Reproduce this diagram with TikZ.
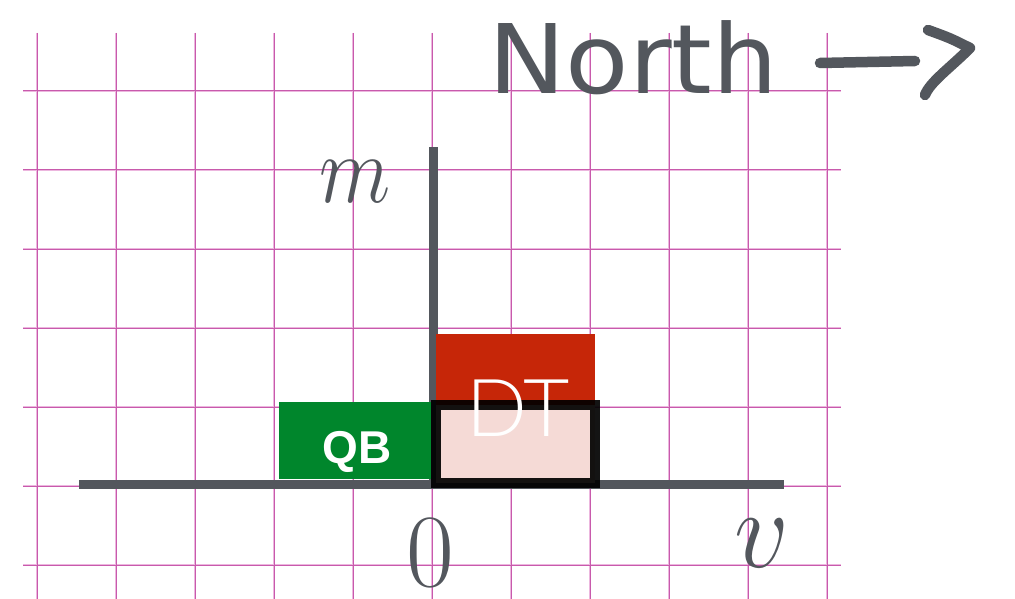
\documentclass[tikz,border=0pt]{standalone}
\usepackage{fontspec}
\newfontfamily\qbfont{Liberation Sans}
\IfFontExistsTF{Lato Light}{\newfontfamily\dtfont{Lato Light}}{\newfontfamily\dtfont{Liberation Sans}}
\newfontfamily\northfont{DejaVu Sans}
\definecolor{gridc}{RGB}{200,90,172}
\definecolor{gridl}{RGB}{236,182,222}
\definecolor{axisgray}{RGB}{83,87,93}
\definecolor{qbgreen}{RGB}{0,134,44}
\definecolor{dtred}{RGB}{198,38,8}
\definecolor{dtpink}{RGB}{245,218,214}
\begin{document}
\begin{tikzpicture}[x=1pt,y=-1pt,
  gridhalo/.style={gridl,line width=2.6pt},
  gridline/.style={gridc,line width=1.0pt},
  axisline/.style={axisgray,line width=9pt},
  lbl/.style={inner sep=0pt,outer sep=0pt,anchor=base,text=axisgray},
  boxnode/.style={inner sep=0pt,outer sep=0pt,anchor=north west},
  handline/.style={axisgray,line width=10.5pt,line cap=round,line join=round},
]
\useasboundingbox (0,0) rectangle (1015,599);
\fill[white] (0,0) rectangle (1015,599);
% grid
\foreach \i in {0,...,10} {\draw[gridhalo] ({37+79*\i},33) -- ({37+79*\i},599);}
\foreach \j in {0,...,6} {\draw[gridhalo] (23,{91+79*\j}) -- (841,{91+79*\j});}
\foreach \i in {0,...,10} {\draw[gridline] ({37+79*\i},33) -- ({37+79*\i},599);}
\foreach \j in {0,...,6} {\draw[gridline] (23,{91+79*\j}) -- (841,{91+79*\j});}
% axes
\coordinate (xstart) at (79,484);
\coordinate (xend) at (784,484);
\coordinate (origin) at (433.5,484);
\coordinate (ytop) at (433.5,147.5);
\draw[axisline] (xstart) -- (xend);
\draw[axisline] (origin) -- (ytop);
% boxes
\node[boxnode,fill=dtred,minimum width=159.3pt,minimum height=86pt] (dtbox) at (435.7,334) {};
\node[boxnode,fill=qbgreen,minimum width=152.3pt,minimum height=77pt] (qbbox) at (279,401.7) {};
\node[boxnode,fill=dtpink,draw=black,draw opacity=0.92,line width=10pt,minimum width=158.7pt,minimum height=77.7pt] (pinkbox) at (436.3,405.3) {};
% texts
\node[inner sep=0pt,anchor=base,text=white,font=\qbfont\bfseries\fontsize{46}{46}\selectfont] (qb) at (357,463.3) {QB};
\node[inner sep=0pt,anchor=base,text=white,font=\dtfont\fontsize{80}{80}\selectfont] (dt) at (518,436.7) {DT};
\node[lbl,font=\fontsize{24.88}{24.88}\selectfont] (mlab) at (355,202) {\scalebox{3.34}[3.9]{$m$}};
\node[lbl,font=\fontsize{104}{104}\selectfont] (zero) at (430,586) {0};
\node[lbl,font=\fontsize{24.88}{24.88}\selectfont] (vlab) at (761.5,567) {\scalebox{4.34}[4.5]{$v$}};
\node[lbl,anchor=base west,font=\northfont\fontsize{96}{96}\selectfont] (north) at (488,94) {\scalebox{1.08}[1]{North}};
% hand-drawn arrow
\coordinate (arrS) at (820,63);
\coordinate (arrE) at (915,61);
\coordinate (tipA) at (928,30);
\coordinate (tipB) at (970,48);
\coordinate (tipC) at (925,95);
\draw[handline] (arrS) -- (arrE);
\draw[handline] (tipA) .. controls (950,38) .. (tipB) .. controls (950,68) and (930,82) .. (tipC);
\end{tikzpicture}
\end{document}
